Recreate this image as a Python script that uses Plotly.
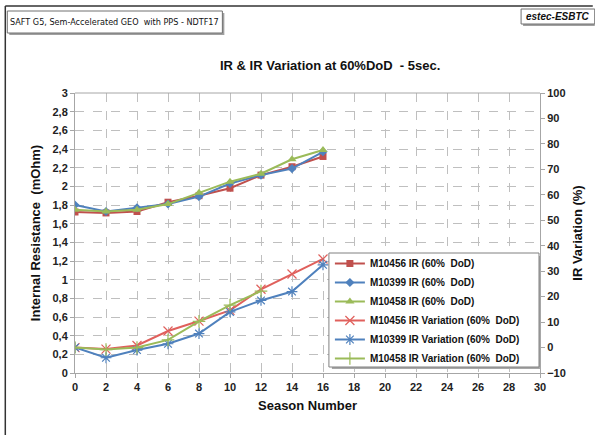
import plotly.graph_objects as go

# Season numbers at which the cells were measured
seasons = [0, 2, 4, 6, 8, 10, 12, 14, 16]

# Internal resistance (mOhm) at 60% DoD, 5 s pulse
ir_m10456 = [1.725, 1.715, 1.73, 1.83, 1.90, 1.98, 2.12, 2.21, 2.32]
ir_m10399 = [1.80, 1.73, 1.77, 1.81, 1.89, 2.03, 2.12, 2.19, 2.37]
ir_m10458 = [1.75, 1.73, 1.75, 1.81, 1.93, 2.05, 2.135, 2.29, 2.39]

# IR variation (%) relative to the first season
var_m10456 = [0, -0.6, 0.8, 6.5, 10.4, 14.6, 22.9, 28.9, 34.8]
var_m10399 = [0, -4.0, -1.0, 1.5, 5.5, 14.0, 18.5, 22.0, 32.5]
var_m10458 = [0, -0.8, 0.0, 3.0, 10.3, 16.7, 22.2]

left_ticks = [round(0.2 * i, 1) for i in range(16)]
right_ticks = list(range(-10, 101, 10))
x_ticks = list(range(0, 31, 2))

RED, BLUE, GREEN = "#C0504D", "#4F81BD", "#9BBB59"
RED_L = "#E0605C"
FONT = "Liberation Sans, Arial, sans-serif"

W, H = 595, 435
ML, MR, MT, MB = 75, 53, 93, 62
PW, PH = W - ML - MR, H - MT - MB


def px(x):
    return (x - ML) / PW


def py(y):
    return (H - MB - y) / PH


fig = go.Figure()

ir_series = [
    ("M10456 IR (60%  DoD)", ir_m10456, RED, "square", 7),
    ("M10399 IR (60%  DoD)", ir_m10399, BLUE, "diamond", 7),
    ("M10458 IR (60%  DoD)", ir_m10458, GREEN, "triangle-up", 8),
]
for name, vals, col, sym, size in ir_series:
    fig.add_trace(go.Scatter(
        x=seasons[:len(vals)], y=vals, name=name, mode="lines+markers",
        line=dict(color=col, width=2),
        marker=dict(symbol=sym, size=size, color=col),
        yaxis="y",
    ))

var_series = [
    ("M10456 IR Variation (60%  DoD)", var_m10456, RED_L, "x-thin-open"),
    ("M10399 IR Variation (60%  DoD)", var_m10399, BLUE, "asterisk-open"),
    ("M10458 IR Variation (60%  DoD)", var_m10458, GREEN, "cross-thin-open"),
]
for name, vals, col, sym in var_series:
    fig.add_trace(go.Scatter(
        x=seasons[:len(vals)], y=vals, name=name, mode="lines+markers",
        line=dict(color=col, width=2),
        marker=dict(symbol=sym, size=9, color=col, line=dict(color=col, width=1.2)),
        yaxis="y2",
    ))

axis_font = dict(family=FONT, size=11, color="#222222")
title_font = dict(family=FONT, size=13, color="#111111")

fig.update_layout(
    width=W, height=H,
    margin=dict(l=ML, r=MR, t=MT, b=MB),
    paper_bgcolor="white", plot_bgcolor="white",
    separators=", ",
    font=dict(family=FONT, color="#222222"),
    showlegend=True,
    legend=dict(
        x=px(331), y=py(249), xanchor="left", yanchor="top",
        bgcolor="rgba(0,0,0,0)", borderwidth=0,
        font=dict(family=FONT, size=10, color="#111111", weight="bold"),
        tracegroupgap=0, itemwidth=30,
    ),
    xaxis=dict(
        range=[0, 30], tickvals=x_ticks, ticktext=[str(v) for v in x_ticks],
        showgrid=True, gridcolor="#BFBFBF", griddash="dash", gridwidth=1,
        showline=True, linecolor="#A6A6A6", linewidth=1, mirror=False,
        ticks="outside", ticklen=4, tickcolor="#A6A6A6",
        tickfont=dict(axis_font, weight="bold"),
        title=dict(text="<b>Season Number</b>", font=title_font, standoff=8),
        zeroline=False,
    ),
    yaxis=dict(
        range=[0, 3], tickvals=left_ticks,
        ticktext=[str(v).replace(".", ",") if v % 1 else str(int(v)) for v in left_ticks],
        showgrid=True, gridcolor="#BFBFBF", griddash="dash", gridwidth=1,
        showline=True, linecolor="#A6A6A6", linewidth=1,
        ticks="outside", ticklen=4, tickcolor="#A6A6A6",
        tickfont=dict(axis_font, weight="bold"),
        title=dict(text="<b>Internal Resistance  (mOhm)</b>", font=title_font, standoff=8),
        zeroline=False,
    ),
    yaxis2=dict(
        range=[-10, 100], tickvals=right_ticks, overlaying="y", side="right",
        showgrid=False, showline=True, linecolor="#A6A6A6", linewidth=1,
        ticks="outside", ticklen=4, tickcolor="#A6A6A6",
        tickfont=dict(axis_font, weight="bold"),
        title=dict(text="<b>IR Variation (%)</b>", font=title_font, standoff=8),
        zeroline=False,
    ),
    shapes=[
        # plot area top edge
        dict(type="line", xref="paper", yref="paper", x0=0, x1=1, y0=1, y1=1,
             line=dict(color="#A6A6A6", width=1)),
        # legend panel with drop shadow
        dict(type="rect", xref="paper", yref="paper",
             x0=px(333), x1=px(543), y0=py(369), y1=py(256),
             fillcolor="#A8A8A8", line=dict(width=0), layer="above"),
        dict(type="rect", xref="paper", yref="paper",
             x0=px(330), x1=px(541), y0=py(367), y1=py(253),
             fillcolor="white", line=dict(color="#808080", width=1), layer="above"),
        # outer frame
        dict(type="line", xref="paper", yref="paper", x0=px(5), x1=px(595),
             y0=py(6), y1=py(6), line=dict(color="#333333", width=1.5)),
        dict(type="line", xref="paper", yref="paper", x0=px(5), x1=px(5),
             y0=py(6), y1=py(435), line=dict(color="#333333", width=1.5)),
        # label box shadows
        dict(type="rect", xref="paper", yref="paper", x0=px(9), x1=px(225),
             y0=py(35), y1=py(13), fillcolor="#A0A0A0", line=dict(width=0)),
        dict(type="rect", xref="paper", yref="paper", x0=px(7), x1=px(223),
             y0=py(33), y1=py(11), fillcolor="white",
             line=dict(color="#707070", width=1)),
        dict(type="rect", xref="paper", yref="paper", x0=px(525), x1=px(597),
             y0=py(26), y1=py(11), fillcolor="#A0A0A0", line=dict(width=0)),
        dict(type="rect", xref="paper", yref="paper", x0=px(523), x1=px(597),
             y0=py(24), y1=py(9), fillcolor="white",
             line=dict(color="#707070", width=1)),
    ],
    annotations=[
        dict(text="<b>IR & IR Variation at 60%DoD  - 5sec.</b>", xref="paper", yref="paper",
             x=px(331), y=py(66), xanchor="center", yanchor="middle", showarrow=False,
             font=dict(family=FONT, size=13, color="#111111")),
        dict(text="SAFT G5, Sem-Accelerated GEO  with PPS - NDTF17", xref="paper", yref="paper",
             x=px(115), y=py(22), xanchor="center", yanchor="middle", showarrow=False,
             font=dict(family="Liberation Sans Narrow, DejaVu Sans Condensed, sans-serif",
                       size=9, color="#111111")),
        dict(text="<b><i>estec-ESBTC</i></b>", xref="paper", yref="paper",
             x=px(560), y=py(16.5), xanchor="center", yanchor="middle", showarrow=False,
             font=dict(family=FONT, size=10, color="#111111")),
    ],
)

fig.write_html("out.html")
